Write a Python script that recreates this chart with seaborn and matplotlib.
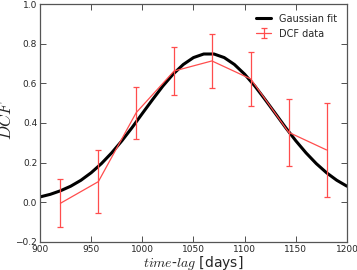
import matplotlib
matplotlib.use("Agg")
import matplotlib.pyplot as plt
import seaborn as sns
import numpy as np

# DCF data points
lag_days = [920, 957, 994, 1031, 1068, 1106, 1143, 1180]
dcf_values = [-0.005, 0.104, 0.452, 0.662, 0.713, 0.622, 0.353, 0.264]
dcf_errors = [0.121, 0.158, 0.131, 0.122, 0.135, 0.138, 0.168, 0.236]

# Gaussian fit curve
fit_lag = [900, 910, 920, 930, 940, 950, 960, 970, 980, 990, 1000, 1010, 1020,
           1030, 1040, 1050, 1060, 1070, 1080, 1090, 1100, 1110, 1120, 1130,
           1140, 1150, 1160, 1170, 1180, 1190, 1200]
fit_dcf = [0.027, 0.040, 0.058, 0.081, 0.111, 0.149, 0.195, 0.249, 0.310, 0.377,
           0.448, 0.518, 0.586, 0.646, 0.695, 0.730, 0.748, 0.748, 0.730, 0.695,
           0.646, 0.586, 0.518, 0.448, 0.377, 0.310, 0.249, 0.195, 0.149, 0.111,
           0.081]

x_ticks = [900, 950, 1000, 1050, 1100, 1150, 1200]
y_ticks = [-0.2, 0.0, 0.2, 0.4, 0.6, 0.8, 1.0]

sns.set_style("ticks")
plt.rcParams["font.family"] = ["DejaVu Sans"]
plt.rcParams["mathtext.fontset"] = "cm"
plt.rcParams["xtick.direction"] = "in"
plt.rcParams["ytick.direction"] = "in"

fig = plt.figure(figsize=(3.57, 2.70), dpi=100)
ax = fig.add_axes([0.112, 0.104, 0.860, 0.881])

sns.lineplot(x=fit_lag, y=fit_dcf, ax=ax, color="black", linewidth=2.2,
             label="Gaussian fit", sort=True)
ax.errorbar(lag_days, dcf_values, yerr=dcf_errors, color="#ff4d4d",
            linewidth=0.9, elinewidth=0.9, capsize=2.2, capthick=0.9,
            label="DCF data")

ax.set_xlim(900, 1200)
ax.set_ylim(-0.2, 1.0)
ax.set_xticks(x_ticks)
ax.set_yticks(y_ticks)
ax.set_xticklabels([str(t) for t in x_ticks])
ax.set_yticklabels([f"{t:.1f}".replace("-", "\u2212") for t in y_ticks])
ax.tick_params(axis="both", which="both", labelsize=6.5, length=4, width=0.6,
               top=True, right=True, color="#333333", pad=2)
for s in ax.spines.values():
    s.set_linewidth(0.9)
    s.set_color("#555555")

ax.set_xlabel(r"$time$-$lag$ [days]", fontsize=10, labelpad=0)
ax.set_ylabel(r"$DCF$", fontsize=12)
ax.yaxis.set_label_coords(-0.08, 0.515)

leg = ax.legend(loc="upper right", frameon=False, fontsize=7,
                handlelength=1.6, borderaxespad=0.6, labelspacing=0.5,
                handletextpad=0.8)

fig.savefig("out.png", dpi=100)
